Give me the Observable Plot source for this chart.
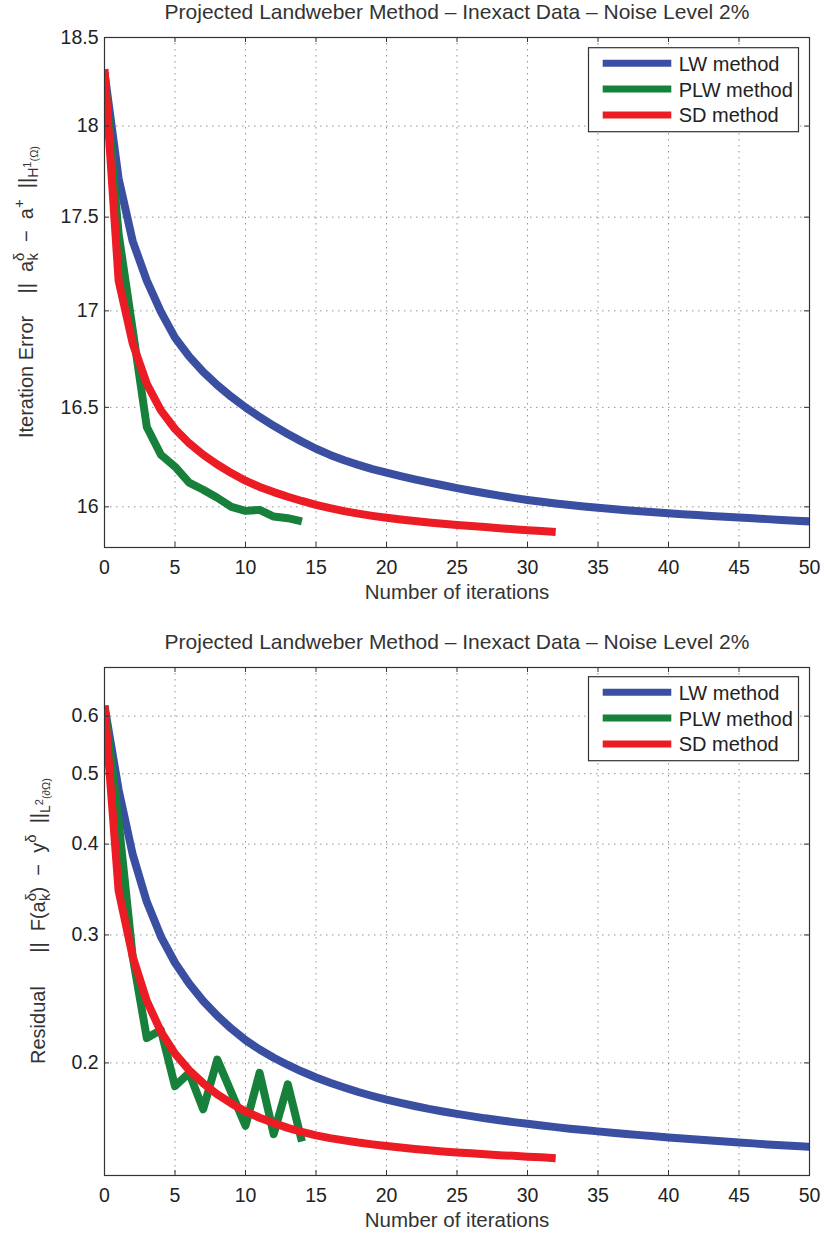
<!DOCTYPE html>
<html><head><meta charset="utf-8">
<script src="https://cdn.jsdelivr.net/npm/d3@7"></script>
<script src="https://cdn.jsdelivr.net/npm/@observablehq/plot@0.6"></script>
<style>
body{margin:0;background:#fff;}
#wrap{width:824px;}
svg{display:block;}
</style></head><body><div id="wrap"></div>
<script>
// ---------- data ----------
const methods = ["LW method", "PLW method", "SD method"];
const colors = ["#3a4ea2", "#17803a", "#ec1c24"];
const titleText = "Projected Landweber Method \u2013 Inexact Data \u2013 Noise Level 2%";
const xLabel = "Number of iterations";
const xTicks = [0, 5, 10, 15, 20, 25, 30, 35, 40, 45, 50];
const errTicks = [16, 16.5, 17, 17.5, 18, 18.5];
const resTicks = [0.2, 0.3, 0.4, 0.5, 0.6];

// Iteration error (top panel), one value per iteration k = 0,1,2,...
const errLW = [18.30, 17.71, 17.37, 17.16, 16.995, 16.86, 16.762, 16.682, 16.614, 16.554,
  16.50, 16.451, 16.406, 16.365, 16.326, 16.29, 16.259, 16.232, 16.209, 16.188,
  16.17, 16.1525, 16.1365, 16.1215, 16.107, 16.093, 16.0798, 16.0674, 16.0556, 16.0444,
  16.034, 16.0248, 16.0164, 16.0088, 16.0018, 15.9952, 15.9891, 15.9834, 15.978, 15.9729,
  15.9681, 15.9636, 15.9593, 15.9551, 15.951, 15.947, 15.9431, 15.9393, 15.9355, 15.9318, 15.9281];
const errPLW = [18.30, 17.41, 16.90, 16.40, 16.26, 16.20, 16.12, 16.085, 16.045, 16.00,
  15.98, 15.985, 15.952, 15.944, 15.928];
const errSD = [18.32, 17.16, 16.83, 16.62, 16.485, 16.39, 16.318, 16.26, 16.211, 16.168,
  16.13, 16.099, 16.073, 16.05, 16.029, 16.01, 15.9935, 15.979, 15.9665, 15.9555,
  15.9458, 15.9372, 15.9296, 15.9228, 15.9166, 15.9108, 15.9053, 15.90, 15.8949, 15.8898,
  15.8848, 15.8803, 15.876];

// Residual (bottom panel)
const resLW = [0.620, 0.4752, 0.3871, 0.3332, 0.2985, 0.2747, 0.2572, 0.2434, 0.2322, 0.2229,
  0.2150, 0.2087, 0.2033, 0.1987, 0.1946, 0.1910, 0.1878, 0.1850, 0.1824, 0.1801,
  0.1780, 0.1762, 0.1745, 0.1729, 0.1715, 0.1702, 0.1690, 0.1678, 0.1668, 0.1658,
  0.1649, 0.1640, 0.1632, 0.1624, 0.1617, 0.1610, 0.1603, 0.1597, 0.1591, 0.1585,
  0.1579, 0.1574, 0.1569, 0.1564, 0.1559, 0.1554, 0.1550, 0.1545, 0.1541, 0.1537, 0.1533];
const resPLW = [0.62, 0.43, 0.28, 0.2164, 0.222, 0.1858, 0.1938, 0.1727, 0.2021, 0.182,
  0.1639, 0.1938, 0.1596, 0.1869, 0.1559];
const resSD = [0.620, 0.3451, 0.2800, 0.2434, 0.2209, 0.2060, 0.1955, 0.1875, 0.1810, 0.1759,
  0.1715, 0.1681, 0.1653, 0.1628, 0.1607, 0.1590, 0.1576, 0.1565, 0.1554, 0.1545,
  0.1537, 0.1530, 0.1523, 0.1517, 0.1511, 0.1506, 0.1502, 0.1497, 0.1493, 0.1490,
  0.1486, 0.1483, 0.1479];

// ---------- helpers ----------
function rows(series) {
  return series.flatMap((vals, s) => vals.map((v, k) => ({k, v, m: methods[s]})));
}
const FONT = "Liberation Sans, Arial, Helvetica, sans-serif";
const W = 824, H = 618, ML = 104, MR = 15;

function chart({data, yDomain, yTicks, marginTop, marginBottom, legendTop, yLabelParts, yLabelX}) {
  const frameH = H - marginTop - marginBottom;
  const frameW = W - ML - MR;
  const svg = Plot.plot({
    width: W, height: H, marginLeft: ML, marginRight: MR, marginTop, marginBottom,
    style: {fontFamily: FONT, fontSize: "19.5px", color: "#222", background: "#fff", overflow: "visible"},
    x: {domain: [0, 50]},
    y: {type: "log", domain: yDomain},
    color: {domain: methods, range: colors},
    marks: [
      Plot.gridX(xTicks, {stroke: "#666", strokeOpacity: 0.7, strokeDasharray: "1.5,4.5", strokeWidth: 1}),
      Plot.gridY(yTicks, {stroke: "#666", strokeOpacity: 0.7, strokeDasharray: "1.5,4.5", strokeWidth: 1}),
      Plot.line(data, {x: "k", y: "v", z: "m", stroke: "m", strokeWidth: 8, clip: true,
        strokeLinecap: "butt", strokeLinejoin: "round"}),
      Plot.tickX(xTicks, {x: d => d, insetTop: frameH - 5, stroke: "#333"}),
      Plot.tickX(xTicks, {x: d => d, insetBottom: frameH - 5, stroke: "#333"}),
      Plot.tickY(yTicks, {y: d => d, insetRight: frameW - 5, stroke: "#333"}),
      Plot.tickY(yTicks, {y: d => d, insetLeft: frameW - 5, stroke: "#333"}),
      Plot.axisX(xTicks, {tickSize: 0, tickPadding: 13, label: null, tickFormat: d => String(d), fill: "#222"}),
      Plot.axisY(yTicks, {tickSize: 0, tickPadding: 6, label: null, tickFormat: d => String(d), fill: "#222"}),
      Plot.frame({stroke: "#333", strokeWidth: 1.2}),
      Plot.text([titleText], {text: d => d, frameAnchor: "top", dy: -19, lineAnchor: "bottom",
        fontSize: 21, fill: "#333"}),
      Plot.text([xLabel], {text: d => d, frameAnchor: "bottom", dy: 51, lineAnchor: "bottom",
        fontSize: 20.5, fill: "#333"})
    ]
  });
  const s = d3.select(svg);
  // legend
  const lg = s.append("g").attr("font-family", FONT).attr("font-size", 20).attr("fill", "#222")
    .attr("text-anchor", "start");
  lg.append("rect").attr("x", 588.5).attr("y", legendTop).attr("width", 210).attr("height", 84)
    .attr("fill", "#fff").attr("stroke", "#333").attr("stroke-width", 1.2);
  methods.forEach((m, i) => {
    const yy = legendTop + 15.6 + i * 25.8;
    lg.append("line").attr("x1", 602.7).attr("x2", 671.3).attr("y1", yy).attr("y2", yy)
      .attr("stroke", colors[i]).attr("stroke-width", 7);
    lg.append("text").attr("x", 678.7).attr("y", yy + 7.5).attr("text-anchor", "start").text(m);
  });
  // y label with sub/superscripts
  const cy = marginTop + frameH / 2;
  const t = s.append("text").attr("transform", `translate(${yLabelX},${cy}) rotate(-90)`)
    .attr("text-anchor", "middle").attr("font-family", FONT).attr("font-size", 20)
    .attr("fill", "#333").style("white-space", "pre");
  yLabelParts.forEach(([txt, size, dx, dy]) => {
    t.append("tspan").attr("font-size", size).attr("dx", dx).attr("dy", dy).text(txt);
  });
  return svg;
}

const topParts = [
  ["Iteration Error    ||  a", 20, 0, 0],
  ["\u03b4", 15, 0, -9],
  ["k", 15, -8, 14],
  ["  \u2212  a", 20, 0, -5],
  ["+", 15, 0, -9],
  ["  ||", 20, 0, 9],
  ["H", 14, 0, 5],
  ["1", 11, 0, -7],
  ["(\u03a9)", 11, 0, 7]
];
const botParts = [
  ["Residual      ||  F(a", 20, 0, 0],
  ["\u03b4", 15, 0, -9],
  ["k", 15, -8, 14],
  [")  \u2212  y", 20, 0, -5],
  ["\u03b4", 15, 0, -9],
  ["  ||", 20, 0, 9],
  ["L", 14, 0, 5],
  ["2", 11, 0, -7],
  ["(\u2202\u03a9)", 11, 0, 7]
];

const wrap = document.getElementById("wrap");
wrap.appendChild(chart({
  data: rows([errLW, errPLW, errSD]), yDomain: [15.8, 18.5], yTicks: errTicks,
  marginTop: 37, marginBottom: 71, legendTop: 47.7, yLabelParts: topParts, yLabelX: 33
}));
wrap.appendChild(chart({
  data: rows([resLW, resPLW, resSD]), yDomain: [0.14, 0.7], yTicks: resTicks,
  marginTop: 49, marginBottom: 61, legendTop: 58.7, yLabelParts: botParts, yLabelX: 45
}));
</script></body></html>
